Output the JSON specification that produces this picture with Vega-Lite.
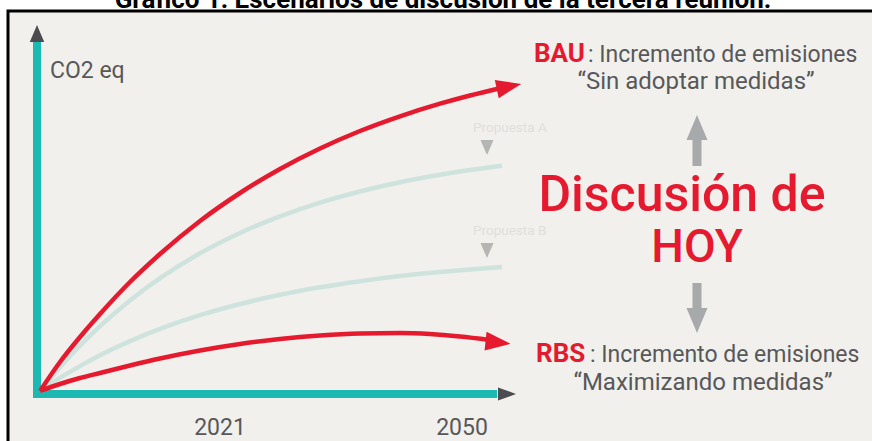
{
  "$schema": "https://vega.github.io/schema/vega-lite/v6.json",
  "width": 872,
  "height": 441,
  "padding": 0,
  "autosize": {"type": "none"},
  "background": "#ffffff",
  "config": {"view": {"stroke": null}, "font": "Roboto"},
  "datasets": {
    "frame": [{"x": 8, "x2": 880, "y": 11, "y2": 450}],
    "axisbars": [
      {"bar": "y", "x": 37, "x2": 37, "y": 42, "y2": 398},
      {"bar": "x", "x": 33, "x2": 497, "y": 394, "y2": 394}
    ],
    "curves": [
      {"series": "BAU", "x": 40, "y": 391}, {"series": "BAU", "x": 60, "y": 362}, {"series": "BAU", "x": 80, "y": 337},
      {"series": "BAU", "x": 100, "y": 314}, {"series": "BAU", "x": 130, "y": 282}, {"series": "BAU", "x": 160, "y": 254},
      {"series": "BAU", "x": 200, "y": 221}, {"series": "BAU", "x": 240, "y": 193}, {"series": "BAU", "x": 280, "y": 169},
      {"series": "BAU", "x": 320, "y": 148.5}, {"series": "BAU", "x": 360, "y": 131}, {"series": "BAU", "x": 400, "y": 116.3},
      {"series": "BAU", "x": 440, "y": 103.7}, {"series": "BAU", "x": 470, "y": 95.5}, {"series": "BAU", "x": 500, "y": 88.2},
      {"series": "A", "x": 40, "y": 391}, {"series": "A", "x": 60, "y": 367.2}, {"series": "A", "x": 80, "y": 345.7},
      {"series": "A", "x": 100, "y": 326.2}, {"series": "A", "x": 130, "y": 300.4}, {"series": "A", "x": 160, "y": 278.2},
      {"series": "A", "x": 200, "y": 253.3}, {"series": "A", "x": 240, "y": 233}, {"series": "A", "x": 280, "y": 216.3},
      {"series": "A", "x": 320, "y": 202.6}, {"series": "A", "x": 360, "y": 191.5}, {"series": "A", "x": 400, "y": 182.3},
      {"series": "A", "x": 440, "y": 174.8}, {"series": "A", "x": 470, "y": 170.1}, {"series": "A", "x": 502, "y": 165.8},
      {"series": "B", "x": 40, "y": 391}, {"series": "B", "x": 60, "y": 377.9}, {"series": "B", "x": 80, "y": 366.1},
      {"series": "B", "x": 100, "y": 355.3}, {"series": "B", "x": 130, "y": 341.1}, {"series": "B", "x": 160, "y": 328.9},
      {"series": "B", "x": 200, "y": 315.2}, {"series": "B", "x": 240, "y": 304}, {"series": "B", "x": 280, "y": 294.8},
      {"series": "B", "x": 320, "y": 287.3}, {"series": "B", "x": 360, "y": 281.2}, {"series": "B", "x": 400, "y": 276.1},
      {"series": "B", "x": 440, "y": 272}, {"series": "B", "x": 470, "y": 269.4}, {"series": "B", "x": 502, "y": 267},
      {"series": "RBS", "x": 40, "y": 391}, {"series": "RBS", "x": 60, "y": 384}, {"series": "RBS", "x": 80, "y": 378},
      {"series": "RBS", "x": 100, "y": 373}, {"series": "RBS", "x": 130, "y": 365.5}, {"series": "RBS", "x": 160, "y": 358.5},
      {"series": "RBS", "x": 200, "y": 350.5}, {"series": "RBS", "x": 240, "y": 344}, {"series": "RBS", "x": 280, "y": 339},
      {"series": "RBS", "x": 320, "y": 335.5}, {"series": "RBS", "x": 360, "y": 333.5}, {"series": "RBS", "x": 400, "y": 333},
      {"series": "RBS", "x": 430, "y": 334}, {"series": "RBS", "x": 460, "y": 336.5}, {"series": "RBS", "x": 490, "y": 340}
    ],
    "bauHead": [{"x": 509, "y": 86.5}],
    "rbsHead": [{"x": 498, "y": 342.5}],
    "yArrow": [{"x": 37, "y": 33.5}],
    "xArrow": [{"x": 507, "y": 394}],
    "propTri": [{"x": 487, "y": 147.5}, {"x": 487, "y": 250.5}],
    "propText": [{"x": 473, "y": 132, "t": "Propuesta A"}, {"x": 473, "y": 235, "t": "Propuesta B"}],
    "grayShafts": [{"x": 697, "y": 139, "y2": 166}, {"x": 697, "y": 283, "y2": 310}],
    "upHead": [{"x": 697, "y": 127.5}],
    "downHead": [{"x": 697, "y": 320.5}],
    "title": [{"x": 443, "y": 8, "t": "Gráfico 1: Escenarios de discusión de la tercera reunión."}],
    "co2": [{"x": 50, "y": 78, "t": "CO2 eq"}],
    "years": [{"x": 220, "y": 435, "t": "2021"}, {"x": 462, "y": 435, "t": "2050"}],
    "codes": [{"x": 534, "y": 62, "t": "BAU"}, {"x": 536, "y": 362, "t": "RBS"}],
    "desc": [{"x": 588, "y": 62, "t": ": Incremento de emisiones"}, {"x": 590, "y": 362, "t": ": Incremento de emisiones"}],
    "quotes": [{"x": 696, "y": 89, "t": "“Sin adoptar medidas”"}, {"x": 703, "y": 390, "t": "“Maximizando medidas”"}],
    "big1": [{"x": 682, "y": 211, "t": "Discusión de"}],
    "big2": [{"x": 697, "y": 262, "t": "HOY"}]
  },
  "encoding": {
    "x": {"field": "x", "type": "quantitative", "scale": {"domain": [0, 872], "nice": false, "zero": false}, "axis": null},
    "y": {"field": "y", "type": "quantitative", "scale": {"domain": [0, 441], "reverse": true, "nice": false, "zero": false}, "axis": null}
  },
  "layer": [
    {
      "data": {"name": "frame"},
      "mark": {"type": "rect", "fill": "#f1f0ec", "stroke": "#000000", "strokeWidth": 3, "clip": true},
      "encoding": {"x2": {"field": "x2"}, "y2": {"field": "y2"}}
    },
    {
      "data": {"name": "axisbars"},
      "mark": {"type": "rule", "color": "#1bb9b2", "strokeWidth": 8, "strokeCap": "butt"},
      "encoding": {"x2": {"field": "x2"}, "y2": {"field": "y2"}}
    },
    {
      "data": {"name": "yArrow"},
      "mark": {"type": "point", "shape": "M0,-1L0.85,1L-0.85,1Z", "size": 289, "filled": true, "color": "#4b4b50", "opacity": 1}
    },
    {
      "data": {"name": "xArrow"},
      "mark": {"type": "point", "shape": "M1,0L-1,-0.72L-1,0.72Z", "size": 324, "filled": true, "color": "#4b4b50", "opacity": 1}
    },
    {
      "data": {"name": "curves"},
      "transform": [{"filter": "datum.series === 'A' || datum.series === 'B'"}],
      "mark": {"type": "line", "color": "#cfe3de", "strokeWidth": 4.5, "interpolate": "monotone"},
      "encoding": {"detail": {"field": "series"}}
    },
    {
      "data": {"name": "curves"},
      "transform": [{"filter": "datum.series === 'BAU' || datum.series === 'RBS'"}],
      "mark": {"type": "line", "color": "#e51a2e", "strokeWidth": 4.5, "interpolate": "monotone"},
      "encoding": {"detail": {"field": "series"}}
    },
    {
      "data": {"name": "bauHead"},
      "mark": {"type": "point", "shape": "M1,0L-1,-0.75L-1,0.75Z", "size": 625, "angle": -12, "filled": true, "color": "#e51a2e", "opacity": 1}
    },
    {
      "data": {"name": "rbsHead"},
      "mark": {"type": "point", "shape": "M1,0L-1,-0.75L-1,0.75Z", "size": 625, "angle": 6, "filled": true, "color": "#e51a2e", "opacity": 1}
    },
    {
      "data": {"name": "propTri"},
      "mark": {"type": "point", "shape": "M0,1L0.87,-1L-0.87,-1Z", "size": 225, "filled": true, "color": "#b5b5b3", "opacity": 1}
    },
    {
      "data": {"name": "propText"},
      "mark": {"type": "text", "align": "left", "baseline": "alphabetic", "fontSize": 13.5, "color": "#e0dfdc"},
      "encoding": {"text": {"field": "t"}}
    },
    {
      "data": {"name": "grayShafts"},
      "mark": {"type": "rule", "color": "#a8a9ab", "strokeWidth": 9, "strokeCap": "butt"},
      "encoding": {"y2": {"field": "y2"}}
    },
    {
      "data": {"name": "upHead"},
      "mark": {"type": "point", "shape": "M0,-1L0.84,1L-0.84,1Z", "size": 625, "filled": true, "color": "#a8a9ab", "opacity": 1}
    },
    {
      "data": {"name": "downHead"},
      "mark": {"type": "point", "shape": "M0,1L0.84,-1L-0.84,-1Z", "size": 625, "filled": true, "color": "#a8a9ab", "opacity": 1}
    },
    {
      "data": {"name": "title"},
      "mark": {"type": "text", "align": "center", "baseline": "alphabetic", "fontSize": 26, "fontWeight": "bold", "color": "#000000"},
      "encoding": {"text": {"field": "t"}}
    },
    {
      "data": {"name": "co2"},
      "mark": {"type": "text", "align": "left", "baseline": "alphabetic", "fontSize": 23, "color": "#58585a"},
      "encoding": {"text": {"field": "t"}}
    },
    {
      "data": {"name": "years"},
      "mark": {"type": "text", "align": "center", "baseline": "alphabetic", "fontSize": 23, "color": "#58585a"},
      "encoding": {"text": {"field": "t"}}
    },
    {
      "data": {"name": "codes"},
      "mark": {"type": "text", "align": "left", "baseline": "alphabetic", "fontSize": 26, "fontWeight": "bold", "color": "#e51a2e"},
      "encoding": {"text": {"field": "t"}}
    },
    {
      "data": {"name": "desc"},
      "mark": {"type": "text", "align": "left", "baseline": "alphabetic", "fontSize": 23, "color": "#58585a"},
      "encoding": {"text": {"field": "t"}}
    },
    {
      "data": {"name": "quotes"},
      "mark": {"type": "text", "align": "center", "baseline": "alphabetic", "fontSize": 24, "color": "#58585a"},
      "encoding": {"text": {"field": "t"}}
    },
    {
      "data": {"name": "big1"},
      "mark": {"type": "text", "align": "center", "baseline": "alphabetic", "fontSize": 50, "fontWeight": 500, "color": "#e51a2e"},
      "encoding": {"text": {"field": "t"}}
    },
    {
      "data": {"name": "big2"},
      "mark": {"type": "text", "align": "center", "baseline": "alphabetic", "fontSize": 46, "fontWeight": 500, "color": "#e51a2e"},
      "encoding": {"text": {"field": "t"}}
    }
  ]
}
